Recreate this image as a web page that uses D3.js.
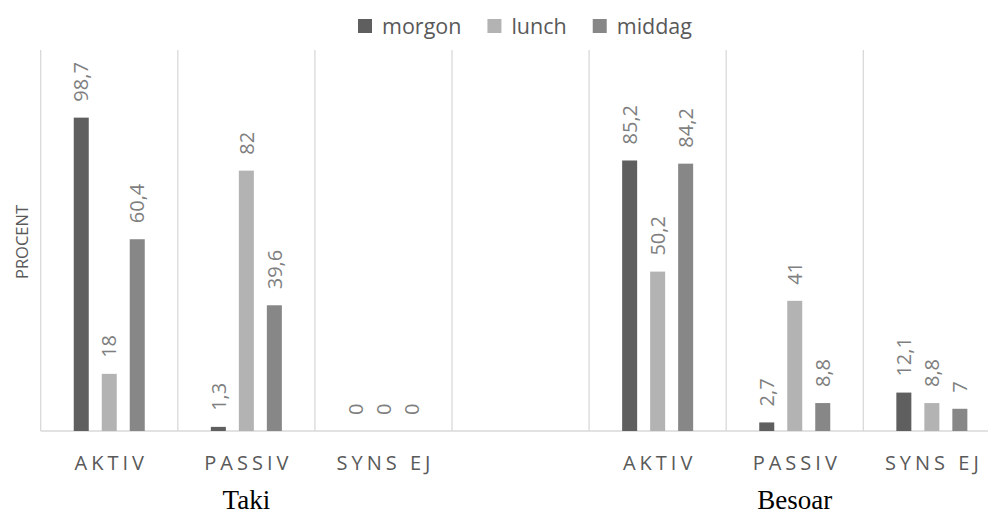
<!DOCTYPE html>
<html>
<head>
<meta charset="utf-8">
<script src="https://cdn.jsdelivr.net/npm/d3@7"></script>
<style>
  html, body { margin: 0; padding: 0; background: #fff; }
  svg { display: block; }
</style>
</head>
<body>
<div id="chart"></div>
<script>
'use strict';

const series = ['morgon', 'lunch', 'middag'];
const seriesColors = ['#5f5f5f', '#b3b3b3', '#878787'];
const categories = ['AKTIV', 'PASSIV', 'SYNS EJ', '', 'AKTIV', 'PASSIV', 'SYNS EJ'];
const groups = [{ name: 'Taki', from: 0, to: 2 }, { name: 'Besoar', from: 4, to: 6 }];
const morgon = [98.7, 1.3, 0, null, 85.2, 2.7, 12.1];
const lunch  = [18, 82, 0, null, 50.2, 41, 8.8];
const middag = [60.4, 39.6, 0, null, 84.2, 8.8, 7];
const values = [morgon, lunch, middag];

const W = 988, H = 516;
const SANS = '"Open Sans", sans-serif';
const SERIF = '"Liberation Serif", "Times New Roman", serif';
const plot = { left: 40.7, top: 50, bottom: 431, step: 137.1 };

const svg = d3.select('#chart').append('svg')
  .attr('width', W)
  .attr('height', H)
  .style('font-family', SANS);

const x0 = d3.scaleBand()
  .domain(d3.range(categories.length))
  .range([plot.left, plot.left + plot.step * categories.length])
  .paddingInner(0);

const cw = x0.bandwidth();
const x1 = d3.scaleBand()
  .domain(series)
  .range([cw / 2 - 42, cw / 2 + 42])
  .paddingInner(0.464)
  .paddingOuter(0.232);

const y = d3.scaleLinear().domain([0, 120]).range([plot.bottom, plot.top]);

// vertical separators
svg.append('g')
  .selectAll('line')
  .data(d3.range(categories.length + 1))
  .join('line')
  .attr('x1', i => plot.left + i * plot.step)
  .attr('x2', i => plot.left + i * plot.step)
  .attr('y1', y(120))
  .attr('y2', y(0))
  .attr('stroke', '#d9d9d9')
  .attr('stroke-width', 1.3);

// baseline
svg.append('line')
  .attr('x1', plot.left)
  .attr('x2', W)
  .attr('y1', y(0))
  .attr('y2', y(0))
  .attr('stroke', '#d9d9d9')
  .attr('stroke-width', 1.5);

const fmt = v => String(v).replace('.', ',');

const barData = [];
series.forEach((s, si) => {
  values[si].forEach((v, ci) => {
    if (v === null) return;
    barData.push({ s, si, ci, v });
  });
});

const bars = svg.append('g');
bars.selectAll('rect')
  .data(barData)
  .join('rect')
  .attr('x', d => x0(d.ci) + x1(d.s))
  .attr('y', d => y(d.v))
  .attr('width', x1.bandwidth())
  .attr('height', d => y(0) - y(d.v))
  .attr('fill', d => seriesColors[d.si]);

bars.selectAll('text')
  .data(barData)
  .join('text')
  .attr('transform', d => {
    const cx = x0(d.ci) + x1(d.s) + x1.bandwidth() / 2;
    return `translate(${cx},${y(d.v) - 16}) rotate(-90)`;
  })
  .attr('dy', '0.36em')
  .attr('font-size', 20)
  .attr('fill', '#7f7f7f')
  .text(d => fmt(d.v));

// category labels
svg.append('g')
  .selectAll('text')
  .data(categories)
  .join('text')
  .attr('x', (d, i) => x0(i) + cw / 2 + 2)
  .attr('y', 470)
  .attr('text-anchor', 'middle')
  .attr('font-size', 20)
  .attr('letter-spacing', '4px')
  .attr('fill', '#595959')
  .text(d => d);

// group labels
svg.append('g')
  .selectAll('text')
  .data(groups)
  .join('text')
  .attr('x', d => (x0(d.from) + x0(d.to) + cw) / 2)
  .attr('y', 509)
  .attr('text-anchor', 'middle')
  .style('font-family', SERIF)
  .attr('font-size', 27)
  .attr('fill', '#000')
  .text(d => d.name);

// y axis title
svg.append('text')
  .attr('transform', 'translate(22,242) rotate(-90)')
  .attr('text-anchor', 'middle')
  .attr('dy', '0.36em')
  .attr('font-size', 16.5)
  .attr('fill', '#595959')
  .text('PROCENT');

// legend
const legend = svg.append('g');
let lx = 0;
series.forEach((s, i) => {
  const g = legend.append('g');
  g.append('rect')
    .attr('x', 0).attr('y', -7)
    .attr('width', 14).attr('height', 14)
    .attr('fill', seriesColors[i]);
  const t = g.append('text')
    .attr('x', 24).attr('dy', '0.35em')
    .attr('font-size', 21.5)
    .attr('fill', '#595959')
    .text(s);
  const w = 24 + t.node().getComputedTextLength();
  g.attr('transform', `translate(${lx},0)`);
  lx += w + 26;
});
const legendW = lx - 26;
legend.attr('transform', `translate(${525 - legendW / 2},26)`);
</script>
</body>
</html>
